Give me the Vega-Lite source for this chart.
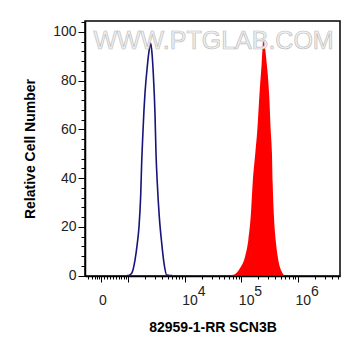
{
  "$schema": "https://vega.github.io/schema/vega-lite/v6.json",
  "width": 255,
  "height": 255,
  "autosize": {"type": "none"},
  "padding": {"left": 85, "top": 21, "right": 21, "bottom": 80},
  "background": "white",
  "config": {"view": {"stroke": "black", "strokeWidth": 1.5}, "font": "Liberation Sans"},
  "datasets": {
    "red": [
      {"d": 4.70, "v": 0}, {"d": 4.742, "v": 0}, {"d": 4.858, "v": 0.3}, {"d": 4.976, "v": 3.0},
      {"d": 5.065, "v": 7.7}, {"d": 5.123, "v": 14.6}, {"d": 5.165, "v": 24.1}, {"d": 5.200, "v": 37.9},
      {"d": 5.247, "v": 50.5}, {"d": 5.282, "v": 59.8}, {"d": 5.317, "v": 73.4}, {"d": 5.359, "v": 87.1},
      {"d": 5.388, "v": 96.7}, {"d": 5.448, "v": 87.1}, {"d": 5.493, "v": 73.4}, {"d": 5.518, "v": 59.8},
      {"d": 5.540, "v": 50.5}, {"d": 5.553, "v": 37.9}, {"d": 5.576, "v": 24.1}, {"d": 5.612, "v": 13.2},
      {"d": 5.652, "v": 6.4}, {"d": 5.712, "v": 1.6}, {"d": 5.770, "v": 0}, {"d": 5.80, "v": 0}
    ],
    "blue": [
      {"d": 2.98, "v": 0}, {"d": 3.005, "v": 0}, {"d": 3.065, "v": 0.9}, {"d": 3.124, "v": 6.4},
      {"d": 3.164, "v": 13.2}, {"d": 3.194, "v": 20}, {"d": 3.224, "v": 33}, {"d": 3.242, "v": 47},
      {"d": 3.262, "v": 58}, {"d": 3.282, "v": 68}, {"d": 3.300, "v": 75}, {"d": 3.341, "v": 86},
      {"d": 3.370, "v": 92}, {"d": 3.394, "v": 95.5}, {"d": 3.418, "v": 92.6}, {"d": 3.446, "v": 83},
      {"d": 3.476, "v": 66.6}, {"d": 3.494, "v": 50.2}, {"d": 3.517, "v": 37.8}, {"d": 3.552, "v": 24.2},
      {"d": 3.595, "v": 13.2}, {"d": 3.635, "v": 5.1}, {"d": 3.683, "v": 0.2}, {"d": 3.741, "v": 0},
      {"d": 3.78, "v": 0}
    ],
    "exps": [{"d": 4, "e": "4"}, {"d": 5, "e": "5"}, {"d": 6, "e": "6"}],
    "mark": [{"d": 4.509, "v": 96.1, "t": "WWW.PTGLAB.COM"}]
  },
  "resolve": {"axis": {"x": "independent", "y": "independent"}},
  "layer": [
    {
      "data": {"name": "red"},
      "mark": {"type": "area", "color": "#ff0000", "interpolate": "monotone"},
      "encoding": {
        "x": {
          "field": "d", "type": "quantitative",
          "scale": {"domain": [2.241, 6.741], "nice": false, "zero": false},
          "axis": {
            "orient": "bottom", "title": null, "labels": false, "domain": false, "grid": false,
            "values": [2.294, 2.365, 2.418, 2.453, 2.488, 2.576, 2.621, 2.682, 2.735, 2.788, 2.841, 2.885, 2.929, 2.965,
              3.301, 3.477, 3.602, 3.699, 3.778, 3.845, 3.903, 3.954,
              4.301, 4.477, 4.602, 4.699, 4.778, 4.845, 4.903, 4.954,
              5.301, 5.477, 5.602, 5.699, 5.778, 5.845, 5.903, 5.954,
              6.301, 6.477, 6.602, 6.699],
            "tickSize": 3, "tickColor": "black", "tickWidth": 1
          }
        },
        "y": {
          "field": "v", "type": "quantitative",
          "scale": {"domain": [-0.2, 104.5], "nice": false, "zero": false},
          "axis": {
            "orient": "left", "title": null, "labels": false, "domain": false, "grid": false,
            "values": [4, 8, 12, 16, 24, 28, 32, 36, 44, 48, 52, 56, 64, 68, 72, 76, 84, 88, 92, 96, 104],
            "tickSize": 4, "tickColor": "black", "tickWidth": 1
          }
        }
      }
    },
    {
      "data": {"name": "blue"},
      "mark": {"type": "line", "color": "#15157a", "strokeWidth": 1.6, "interpolate": "monotone"},
      "encoding": {
        "x": {
          "field": "d", "type": "quantitative",
          "axis": {
            "orient": "bottom",
            "title": "82959-1-RR SCN3B", "titleFont": "Liberation Sans", "titleFontSize": 14,
            "titleFontWeight": "bold", "titleColor": "#000", "titlePadding": 13,
            "values": [2.532, 3, 4, 5, 6],
            "labelExpr": "datum.value < 2.9 ? '0' : datum.value > 3.5 ? '10' : ''",
            "tickSize": 6,
            "labelAlign": "left", "labelOffset": -3, "labelBaseline": "top", "labelPadding": 11,
            "labelFont": "Liberation Sans", "labelFontSize": 14, "labelColor": "#222",
            "labelOverlap": false, "labelFlush": false,
            "domainColor": "black", "domainWidth": 1.5, "tickColor": "black", "tickWidth": 1, "grid": false
          }
        },
        "y": {
          "field": "v", "type": "quantitative",
          "axis": {
            "orient": "left",
            "title": "Relative Cell Number", "titleFont": "Liberation Sans", "titleFontSize": 14,
            "titleFontWeight": "bold", "titleColor": "#000", "titlePadding": 15,
            "values": [0, 20, 40, 60, 80, 100],
            "tickSize": 7,
            "labelPadding": 2, "labelFont": "Liberation Sans", "labelFontSize": 14, "labelColor": "#222",
            "labelOverlap": false, "labelFlush": false,
            "domainColor": "black", "domainWidth": 1.5, "tickColor": "black", "tickWidth": 1, "grid": false
          }
        }
      }
    },
    {
      "data": {"name": "exps"},
      "mark": {"type": "text", "align": "left", "baseline": "top", "dx": 13, "dy": 9, "fontSize": 14, "font": "Liberation Sans", "color": "#222"},
      "encoding": {
        "x": {"field": "d", "type": "quantitative", "axis": null},
        "y": {"datum": -0.2, "type": "quantitative", "axis": null},
        "text": {"field": "e"}
      }
    },
    {
      "data": {"name": "mark"},
      "mark": {"type": "text", "align": "center", "baseline": "middle", "fontSize": 25, "font": "Liberation Sans", "fill": "#f2f2f2", "stroke": "#bdbdbd", "strokeWidth": 0.7},
      "encoding": {
        "x": {"field": "d", "type": "quantitative", "axis": null},
        "y": {"field": "v", "type": "quantitative", "axis": null},
        "text": {"field": "t"}
      }
    }
  ]
}
